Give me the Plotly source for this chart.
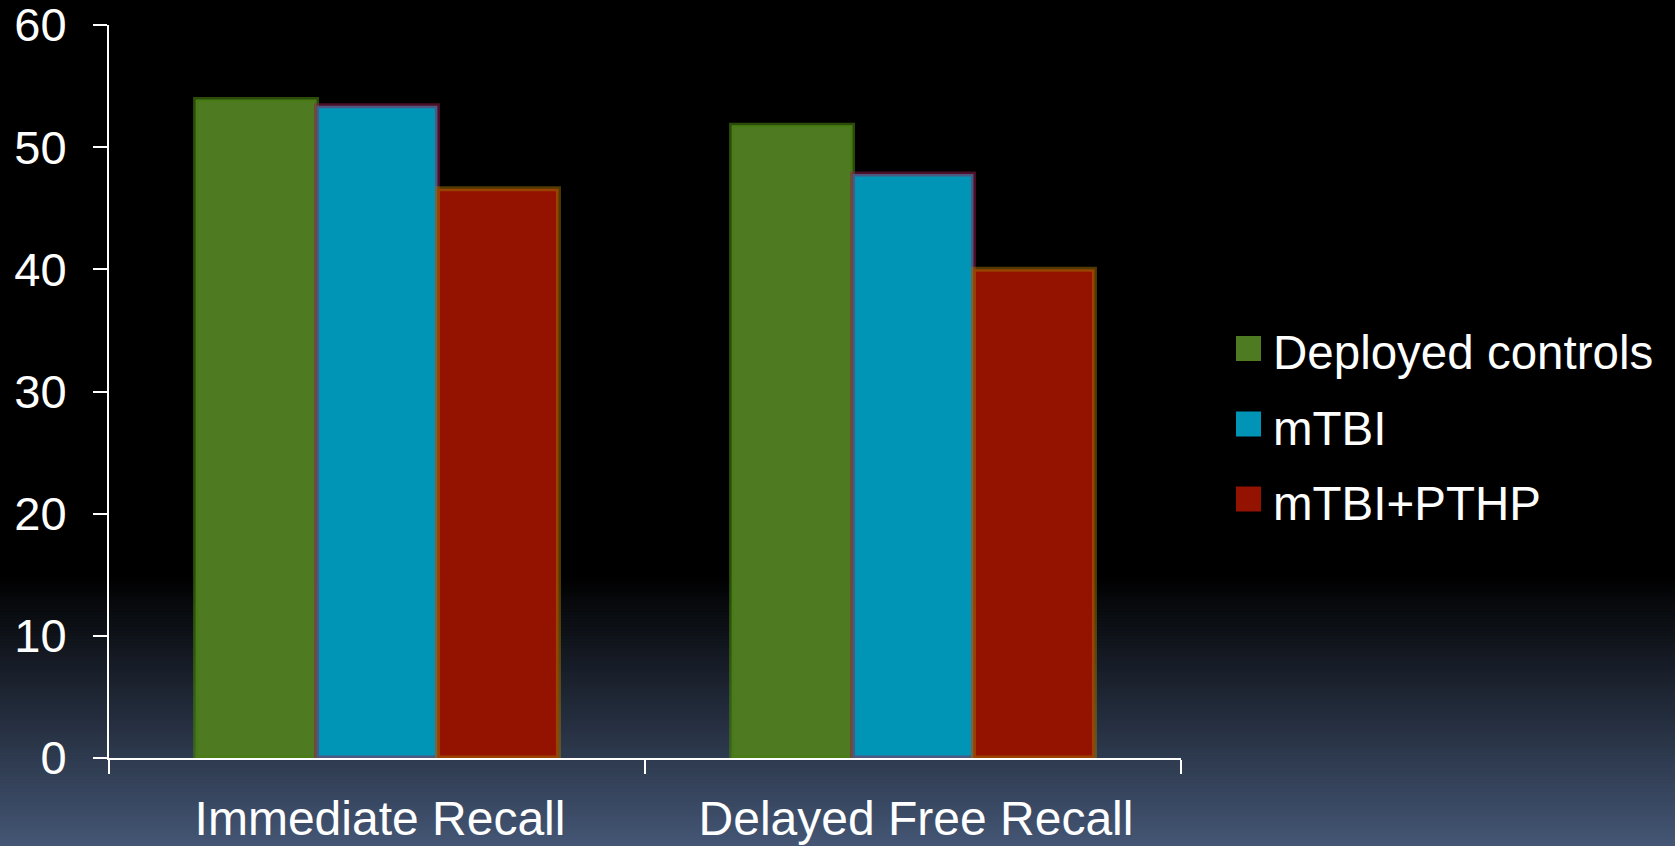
import plotly.graph_objects as go

# ---- data ----
categories = ["Immediate Recall", "Delayed Free Recall"]
series_names = ["Deployed controls", "mTBI", "mTBI+PTHP"]
controls = [53.9, 51.8]
mtbi = [53.4, 47.8]
mtbi_pthp = [46.6, 40.0]
y_ticks = [0, 10, 20, 30, 40, 50, 60]

series_values = [controls, mtbi, mtbi_pthp]
bar_colors = ["#4e7a21", "#0095b6", "#941300"]
glow_colors = ["rgba(70,125,15,0.6)", "rgba(150,30,80,0.5)", "rgba(160,115,0,0.5)"]

FONT = "Liberation Sans, Arial, sans-serif"
W, H = 1675, 846
ML, MR, MT, MB = 109, 494, 25, 88
PW = W - ML - MR
PH = H - MT - MB

fig = go.Figure()
for name, vals, col, glow in zip(series_names, series_values, bar_colors, glow_colors):
    fig.add_trace(go.Bar(
        x=categories, y=vals, name=name,
        marker=dict(color=col, line=dict(color=glow, width=5)),
        showlegend=False,
    ))

shapes = []
# background gradient (black -> slate blue) at the bottom of the figure
y_start_px, y_end_px = 575, H
c_end = (68, 86, 117)
n = 90
step = (y_end_px - y_start_px) / n
for i in range(n):
    t = (i + 0.5) / n
    c = tuple(int(round(v * t)) for v in c_end)
    y0px = y_start_px + i * step
    y1px = y_start_px + (i + 1) * step + 0.6
    shapes.append(dict(
        type="rect", xref="paper", yref="paper", layer="below",
        x0=-ML / PW - 0.01, x1=(W - ML) / PW + 0.01,
        y0=(H - MB - y0px) / PH, y1=(H - MB - y1px) / PH,
        fillcolor=f"rgb({c[0]},{c[1]},{c[2]})", line=dict(width=0),
    ))

# manual legend (large squares)
annotations = []
leg_centers_px = [348.5, 424, 499]
sq = 25
sq_x0 = 1236
for name, col, cy in zip(series_names, bar_colors, leg_centers_px):
    shapes.append(dict(
        type="rect", xref="paper", yref="paper", layer="above",
        x0=(sq_x0 - ML) / PW, x1=(sq_x0 + sq - ML) / PW,
        y0=(H - MB - (cy - sq / 2)) / PH, y1=(H - MB - (cy + sq / 2)) / PH,
        fillcolor=col, line=dict(width=0),
    ))
    annotations.append(dict(
        xref="paper", yref="paper", x=(1271 - ML) / PW, y=(H - MB - (cy + 4)) / PH,
        text=name, showarrow=False, xanchor="left", yanchor="middle",
        font=dict(family=FONT, size=47.5, color="white"),
    ))

fig.update_layout(
    width=W, height=H,
    margin=dict(l=ML, r=MR, t=MT, b=MB, autoexpand=False),
    paper_bgcolor="black", plot_bgcolor="rgba(0,0,0,0)",
    barmode="group", bargap=0.323, bargroupgap=0,
    showlegend=False,
    shapes=shapes, annotations=annotations,
    font=dict(family=FONT, size=47, color="white"),
    xaxis=dict(
        showline=True, linecolor="white", linewidth=2,
        ticks="outside", tickson="boundaries", ticklen=14, tickwidth=2, tickcolor="white",
        showgrid=False, zeroline=False, automargin=False,
        tickfont=dict(family=FONT, size=48, color="white"),
        ticklabelstandoff=17, ticklabelshift=3, ticklabeloverflow="allow",
    ),
    yaxis=dict(
        range=[0, 60], tickvals=y_ticks,
        showline=True, linecolor="white", linewidth=2,
        ticks="outside", ticklen=14, tickwidth=2, tickcolor="white",
        showgrid=False, zeroline=False, automargin=False,
        tickfont=dict(family=FONT, size=47, color="white"),
        ticklabelstandoff=17, ticklabeloverflow="allow",
    ),
)

fig.write_html("out.html")
